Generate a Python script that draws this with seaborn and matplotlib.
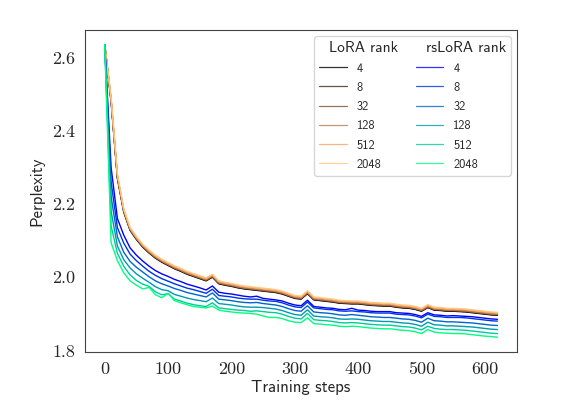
import pandas as pd
import numpy as np
import seaborn as sns
import matplotlib.pyplot as plt
from matplotlib.lines import Line2D

steps = list(range(0, 630, 10))

lora_4 = [2.635, 2.480, 2.270, 2.178, 2.128, 2.103, 2.082, 2.066, 2.052, 2.041,
          2.032, 2.023, 2.016, 2.008, 2.002, 1.996, 1.990, 2.000, 1.982, 1.978,
          1.975, 1.971, 1.968, 1.966, 1.964, 1.962, 1.960, 1.958, 1.954, 1.948,
          1.942, 1.940, 1.955, 1.938, 1.936, 1.934, 1.932, 1.929, 1.928, 1.927,
          1.927, 1.925, 1.923, 1.922, 1.921, 1.921, 1.918, 1.916, 1.915, 1.912,
          1.907, 1.917, 1.910, 1.909, 1.907, 1.907, 1.906, 1.905, 1.903, 1.901,
          1.899, 1.897, 1.896]
lora_8 = [2.635, 2.481, 2.271, 2.179, 2.129, 2.104, 2.083, 2.067, 2.053, 2.042,
          2.033, 2.024, 2.017, 2.009, 2.003, 1.997, 1.991, 2.001, 1.983, 1.979,
          1.976, 1.972, 1.969, 1.967, 1.965, 1.963, 1.961, 1.959, 1.955, 1.949,
          1.943, 1.941, 1.956, 1.939, 1.937, 1.935, 1.933, 1.930, 1.929, 1.928,
          1.928, 1.926, 1.924, 1.923, 1.922, 1.922, 1.919, 1.917, 1.916, 1.913,
          1.908, 1.918, 1.911, 1.910, 1.908, 1.908, 1.907, 1.906, 1.904, 1.902,
          1.900, 1.898, 1.897]
lora_32 = [2.635, 2.483, 2.273, 2.180, 2.130, 2.105, 2.084, 2.068, 2.054, 2.043,
           2.034, 2.025, 2.018, 2.010, 2.004, 1.998, 1.992, 2.002, 1.984, 1.980,
           1.977, 1.973, 1.970, 1.968, 1.966, 1.964, 1.962, 1.960, 1.956, 1.950,
           1.944, 1.942, 1.957, 1.940, 1.938, 1.936, 1.934, 1.931, 1.930, 1.929,
           1.929, 1.927, 1.925, 1.924, 1.923, 1.923, 1.920, 1.918, 1.917, 1.914,
           1.909, 1.919, 1.912, 1.911, 1.909, 1.909, 1.908, 1.907, 1.905, 1.903,
           1.901, 1.899, 1.898]
lora_128 = [2.635, 2.485, 2.275, 2.181, 2.131, 2.106, 2.085, 2.069, 2.055, 2.044,
            2.035, 2.026, 2.019, 2.011, 2.005, 1.999, 1.993, 2.003, 1.985, 1.981,
            1.978, 1.974, 1.971, 1.969, 1.967, 1.965, 1.963, 1.961, 1.957, 1.951,
            1.945, 1.943, 1.958, 1.941, 1.939, 1.937, 1.935, 1.932, 1.931, 1.930,
            1.930, 1.928, 1.926, 1.925, 1.924, 1.924, 1.921, 1.919, 1.918, 1.915,
            1.910, 1.920, 1.913, 1.912, 1.910, 1.910, 1.909, 1.908, 1.906, 1.904,
            1.902, 1.900, 1.899]
lora_512 = [2.635, 2.489, 2.279, 2.185, 2.134, 2.109, 2.088, 2.072, 2.058, 2.047,
            2.038, 2.029, 2.022, 2.014, 2.008, 2.002, 1.996, 2.006, 1.988, 1.984,
            1.981, 1.977, 1.974, 1.972, 1.970, 1.968, 1.966, 1.964, 1.960, 1.954,
            1.948, 1.946, 1.961, 1.944, 1.942, 1.940, 1.938, 1.935, 1.934, 1.933,
            1.933, 1.931, 1.929, 1.928, 1.927, 1.927, 1.924, 1.922, 1.921, 1.918,
            1.913, 1.923, 1.916, 1.915, 1.913, 1.913, 1.912, 1.911, 1.909, 1.907,
            1.905, 1.903, 1.902]
lora_2048 = [2.635, 2.491, 2.281, 2.187, 2.136, 2.111, 2.090, 2.074, 2.060, 2.049,
             2.040, 2.031, 2.024, 2.016, 2.010, 2.004, 1.998, 2.008, 1.990, 1.986,
             1.983, 1.979, 1.976, 1.974, 1.972, 1.970, 1.968, 1.966, 1.962, 1.956,
             1.950, 1.948, 1.963, 1.946, 1.944, 1.942, 1.940, 1.937, 1.936, 1.935,
             1.935, 1.933, 1.931, 1.930, 1.929, 1.929, 1.926, 1.924, 1.923, 1.920,
             1.915, 1.925, 1.918, 1.917, 1.915, 1.915, 1.914, 1.913, 1.911, 1.909,
             1.907, 1.905, 1.904]

rslora_4 = [2.635, 2.300, 2.160, 2.115, 2.080, 2.060, 2.044, 2.030, 2.018, 2.009,
            2.002, 1.994, 1.988, 1.981, 1.976, 1.971, 1.965, 1.976, 1.959, 1.956,
            1.954, 1.951, 1.948, 1.946, 1.948, 1.942, 1.940, 1.938, 1.935, 1.929,
            1.924, 1.922, 1.937, 1.920, 1.918, 1.916, 1.915, 1.912, 1.911, 1.915,
            1.910, 1.909, 1.907, 1.906, 1.906, 1.906, 1.903, 1.902, 1.901, 1.898,
            1.893, 1.903, 1.897, 1.896, 1.894, 1.895, 1.894, 1.893, 1.892, 1.890,
            1.888, 1.886, 1.885]
rslora_8 = [2.635, 2.260, 2.135, 2.093, 2.063, 2.045, 2.030, 2.016, 2.005, 1.996,
            1.989, 1.982, 1.976, 1.970, 1.966, 1.961, 1.956, 1.967, 1.950, 1.948,
            1.946, 1.943, 1.941, 1.940, 1.940, 1.937, 1.935, 1.934, 1.930, 1.924,
            1.919, 1.917, 1.932, 1.916, 1.914, 1.912, 1.911, 1.908, 1.907, 1.908,
            1.906, 1.905, 1.903, 1.902, 1.902, 1.902, 1.899, 1.898, 1.897, 1.894,
            1.889, 1.899, 1.893, 1.892, 1.890, 1.890, 1.890, 1.889, 1.887, 1.885,
            1.883, 1.881, 1.880]
rslora_32 = [2.635, 2.220, 2.110, 2.068, 2.043, 2.027, 2.014, 2.001, 1.990, 1.982,
             1.976, 1.969, 1.964, 1.958, 1.954, 1.950, 1.946, 1.957, 1.940, 1.938,
             1.936, 1.933, 1.931, 1.930, 1.931, 1.928, 1.926, 1.924, 1.920, 1.914,
             1.909, 1.907, 1.922, 1.905, 1.903, 1.902, 1.900, 1.897, 1.896, 1.898,
             1.896, 1.894, 1.892, 1.891, 1.890, 1.890, 1.888, 1.886, 1.885, 1.882,
             1.877, 1.888, 1.881, 1.880, 1.878, 1.878, 1.877, 1.876, 1.875, 1.873,
             1.871, 1.869, 1.868]
rslora_128 = [2.635, 2.180, 2.085, 2.048, 2.025, 2.009, 1.997, 1.986, 1.974, 1.966,
              1.963, 1.953, 1.948, 1.943, 1.939, 1.936, 1.933, 1.943, 1.928, 1.926,
              1.924, 1.921, 1.919, 1.918, 1.918, 1.917, 1.915, 1.913, 1.909, 1.903,
              1.898, 1.896, 1.911, 1.894, 1.892, 1.891, 1.889, 1.886, 1.885, 1.886,
              1.885, 1.883, 1.881, 1.880, 1.879, 1.879, 1.877, 1.875, 1.874, 1.871,
              1.866, 1.877, 1.870, 1.869, 1.867, 1.867, 1.866, 1.865, 1.864, 1.862,
              1.860, 1.858, 1.857]
rslora_512 = [2.635, 2.140, 2.065, 2.030, 2.006, 1.991, 1.981, 1.975, 1.960, 1.952,
              1.955, 1.940, 1.935, 1.929, 1.925, 1.922, 1.920, 1.930, 1.916, 1.914,
              1.912, 1.910, 1.909, 1.907, 1.908, 1.906, 1.904, 1.903, 1.899, 1.893,
              1.888, 1.886, 1.901, 1.884, 1.882, 1.881, 1.879, 1.876, 1.875, 1.876,
              1.875, 1.873, 1.871, 1.870, 1.869, 1.869, 1.867, 1.865, 1.864, 1.861,
              1.856, 1.866, 1.860, 1.858, 1.857, 1.857, 1.856, 1.855, 1.853, 1.851,
              1.849, 1.847, 1.846]
rslora_2048 = [2.635, 2.094, 2.045, 2.012, 1.990, 1.978, 1.968, 1.972, 1.952, 1.944,
               1.956, 1.936, 1.930, 1.925, 1.920, 1.918, 1.916, 1.921, 1.910, 1.907,
               1.905, 1.903, 1.902, 1.901, 1.899, 1.894, 1.890, 1.890, 1.887, 1.881,
               1.877, 1.876, 1.889, 1.873, 1.872, 1.870, 1.869, 1.866, 1.865, 1.866,
               1.865, 1.863, 1.861, 1.860, 1.859, 1.859, 1.857, 1.855, 1.854, 1.851,
               1.846, 1.857, 1.850, 1.848, 1.847, 1.846, 1.846, 1.845, 1.843, 1.841,
               1.839, 1.838, 1.836]

ranks = ["4", "8", "32", "128", "512", "2048"]
lora_series = [lora_4, lora_8, lora_32, lora_128, lora_512, lora_2048]
rslora_series = [rslora_4, rslora_8, rslora_32, rslora_128, rslora_512, rslora_2048]

rows = []
for method, series in [("LoRA", lora_series), ("rsLoRA", rslora_series)]:
    for r, vals in zip(ranks, series):
        for s, v in zip(steps, vals):
            rows.append({"step": s, "ppl": v, "run": f"{method} {r}"})
df = pd.DataFrame(rows)

copper = plt.get_cmap("copper")
winter = plt.get_cmap("winter")
lora_colors = [copper(x) for x in np.linspace(0, 1, 6)]
rslora_colors = [winter(x) for x in np.linspace(0, 1, 6)]
palette = {}
for r, c in zip(ranks, lora_colors):
    palette[f"LoRA {r}"] = c
for r, c in zip(ranks, rslora_colors):
    palette[f"rsLoRA {r}"] = c

sns.set_style("white")
plt.rcParams['axes.formatter.use_mathtext'] = True

fig = plt.figure(figsize=(5.83, 4.12), dpi=100)
ax = fig.add_axes([0.146, 0.146, 0.741, 0.781])

order = [f"LoRA {r}" for r in ranks] + [f"rsLoRA {r}" for r in ranks]
sns.lineplot(data=df, x="step", y="ppl", hue="run", hue_order=order,
             palette=palette, linewidth=1.0, legend=False, ax=ax)

ax.set_xticks([0, 100, 200, 300, 400, 500, 600])
ax.set_yticks([1.8, 2.0, 2.2, 2.4, 2.6])
ax.set_xticklabels(["0", "100", "200", "300", "400", "500", "600"], family="cmr10", fontsize=13)
ax.set_yticklabels(["1.8", "2.0", "2.2", "2.4", "2.6"], family="cmr10", fontsize=13)
ax.set_xlabel("Training steps", family="cmss10", fontsize=12, labelpad=2)
ax.set_ylabel("Perplexity", family="cmss10", fontsize=12, labelpad=6)
for sp in ax.spines.values():
    sp.set_color("#444444")

blank = Line2D([], [], linestyle="none")
handles = [blank] + [Line2D([], [], color=c, lw=0.9, alpha=0.8) for c in lora_colors] \
    + [blank] + [Line2D([], [], color=c, lw=0.9, alpha=0.8) for c in rslora_colors]
labels = ["LoRA rank"] + ranks + ["rsLoRA rank"] + ranks
leg = ax.legend(handles, labels, ncol=2, loc="upper right",
                prop={"family": "cmss10", "size": 9}, frameon=True,
                handlelength=2.2, labelspacing=0.58, columnspacing=1.4,
                borderaxespad=0.5)
# header rows: drop the handle box and enlarge the text
for col in leg._legend_handle_box.get_children():
    first = col.get_children()[0]
    first.get_children()[0].set_width(0)
for t in leg.get_texts():
    if "rank" in t.get_text():
        t.set_fontsize(11)

plt.savefig("out.png", dpi=100)
